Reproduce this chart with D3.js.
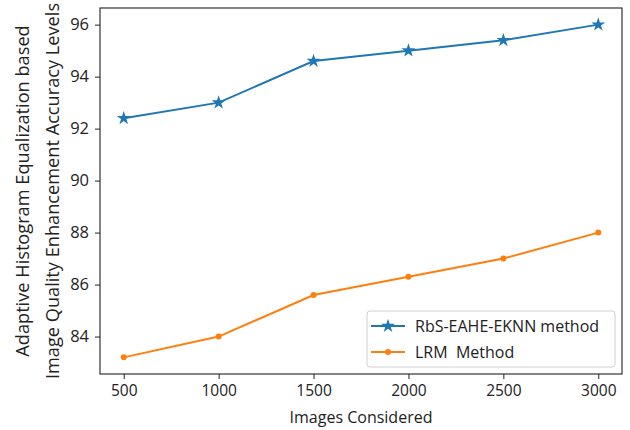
<!DOCTYPE html>
<html>
<head>
<meta charset="utf-8">
<script src="https://d3js.org/d3.v7.min.js"></script>
<style>
  body { margin: 0; background: #fff; }
  svg text { font-family: "Open Sans", sans-serif; fill: #222; white-space: pre; }
</style>
</head>
<body>
<svg id="chart"></svg>
<script>
// data
const images = [500, 1000, 1500, 2000, 2500, 3000]
const rbsValues = [92.4, 93.0, 94.6, 95.0, 95.4, 96.0]
const lrmValues = [83.2, 84.0, 85.6, 86.3, 87.0, 88.0]
const yTicks = [84, 86, 88, 90, 92, 94, 96]
const seriesNames = ["RbS-EAHE-EKNN method", "LRM  Method"]

var dimensions = {
  width: 630,
  height: 430,
  margin: { top: 8, bottom: 56, right: 8, left: 100 }
}
dimensions.boundedWidth = dimensions.width - dimensions.margin.left - dimensions.margin.right
dimensions.boundedHeight = dimensions.height - dimensions.margin.top - dimensions.margin.bottom

const blue = "#1f77b4"
const orange = "#ff7f0e"
const fontSize = "15.5px"

// matplotlib-like 5% padding
var xExt = d3.extent(images)
var xPad = (xExt[1] - xExt[0]) * 0.05
var allY = rbsValues.concat(lrmValues)
var yExt = d3.extent(allY)
var yPad = (yExt[1] - yExt[0]) * 0.05

var xScale = d3.scaleLinear()
  .domain([xExt[0] - xPad, xExt[1] + xPad])
  .range([0, dimensions.boundedWidth])

var yScale = d3.scaleLinear()
  .domain([yExt[0] - yPad, yExt[1] + yPad])
  .range([dimensions.boundedHeight, 0])

var svg = d3.select("#chart")
  .attr("width", dimensions.width)
  .attr("height", dimensions.height)

var bounds = svg.append("g")
  .attr("transform", `translate(${dimensions.margin.left},${dimensions.margin.top})`)

// axes
var xAxis = d3.axisBottom(xScale).tickValues(images).tickFormat(d3.format("d"))
  .tickSize(5).tickPadding(4).tickSizeOuter(0)
var yAxis = d3.axisLeft(yScale).tickValues(yTicks).tickFormat(d3.format("d"))
  .tickSize(5).tickPadding(6).tickSizeOuter(0)

var xg = bounds.append("g")
  .attr("transform", `translate(0,${dimensions.boundedHeight})`)
  .call(xAxis)
var yg = bounds.append("g").call(yAxis)

;[xg, yg].forEach(g => {
  g.select(".domain").remove()
  g.selectAll("line").attr("stroke", "#222").attr("stroke-width", 1)
  g.selectAll("text").style("font-size", fontSize).attr("fill", "#222")
})
yg.selectAll("text").style("font-size", "16.5px")
xg.selectAll("text").attr("dy", "0.85em")

// frame
bounds.append("rect")
  .attr("x", 0).attr("y", 0)
  .attr("width", dimensions.boundedWidth)
  .attr("height", dimensions.boundedHeight)
  .attr("fill", "none")
  .attr("stroke", "#222")
  .attr("stroke-width", 1.1)

// lines
var line = d3.line()
  .x((d, i) => xScale(images[i]))
  .y(d => yScale(d))

bounds.append("path")
  .datum(rbsValues)
  .attr("fill", "none")
  .attr("stroke", blue)
  .attr("stroke-width", 2)
  .attr("d", line)

bounds.append("path")
  .datum(lrmValues)
  .attr("fill", "none")
  .attr("stroke", orange)
  .attr("stroke-width", 2)
  .attr("d", line)

var star = d3.symbol().type(d3.symbolStar).size(60)

bounds.selectAll(".rbs")
  .data(rbsValues)
  .enter()
  .append("path")
  .attr("class", "rbs")
  .attr("d", star)
  .attr("transform", (d, i) => `translate(${xScale(images[i])},${yScale(d)})`)
  .attr("fill", blue)

bounds.selectAll(".lrm")
  .data(lrmValues)
  .enter()
  .append("circle")
  .attr("class", "lrm")
  .attr("cx", (d, i) => xScale(images[i]))
  .attr("cy", d => yScale(d))
  .attr("r", 3)
  .attr("fill", orange)

// axis labels
svg.append("text")
  .attr("x", dimensions.margin.left + dimensions.boundedWidth / 2)
  .attr("y", 423)
  .attr("text-anchor", "middle")
  .style("font-size", "16px")
  .text("Images Considered")

var yMid = dimensions.margin.top + dimensions.boundedHeight / 2
var yLabel = svg.append("text")
  .attr("transform", `translate(0,${yMid}) rotate(-90)`)
  .attr("text-anchor", "middle")
  .style("font-size", "18.2px")
yLabel.append("tspan").attr("x", 0).attr("y", 29).text("Adaptive Histogram Equalization based")
yLabel.append("tspan").attr("x", 0).attr("y", 59).text("Image Quality Enhancement Accuracy Levels")

// legend (lower right)
var legend = bounds.append("g")
  .attr("transform", `translate(${dimensions.boundedWidth - 255},${dimensions.boundedHeight - 63})`)

legend.append("rect")
  .attr("width", 248)
  .attr("height", 56)
  .attr("rx", 3)
  .attr("fill", "#fff")
  .attr("fill-opacity", 0.85)
  .attr("stroke", "#d0d0d0")

var colors = [blue, orange]
seriesNames.forEach((name, i) => {
  var cy = 15 + i * 26
  legend.append("line")
    .attr("x1", 4).attr("x2", 38)
    .attr("y1", cy).attr("y2", cy)
    .attr("stroke", colors[i])
    .attr("stroke-width", 2)
  if (i === 0) {
    legend.append("path").attr("d", star)
      .attr("transform", `translate(21,${cy})`)
      .attr("fill", blue)
  } else {
    legend.append("circle").attr("cx", 21).attr("cy", cy).attr("r", 3).attr("fill", orange)
  }
  legend.append("text")
    .attr("x", 48)
    .attr("y", cy)
    .attr("dy", "0.35em")
    .style("font-size", "16px")
    .text(name)
})
</script>
</body>
</html>
